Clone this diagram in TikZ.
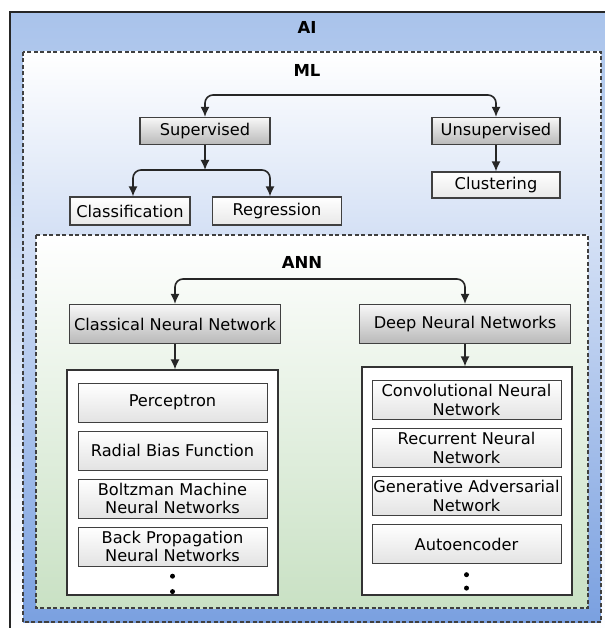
\documentclass[tikz,border=0pt]{standalone}
\usepackage{fontspec}
\setmainfont{DejaVu Sans}
\usepackage{tikz}
\usetikzlibrary{arrows.meta}
\usetikzlibrary{positioning}

\definecolor{aiblue}{HTML}{A9C3EB}
\definecolor{mlblue}{HTML}{7AA0E0}
\definecolor{anngreen}{HTML}{C9E1C4}

\begin{document}
\begin{tikzpicture}[x=1pt, y=-1pt,
    font=\fontsize{16.2}{18.5}\selectfont,
    >={Latex[length=10pt,width=9pt]},
    lbl/.style={font=\fontsize{16.5}{18}\selectfont\bfseries},
    zone/.style={draw=black!75, line width=1.1pt, dash pattern=on 4pt off 2.5pt},
    task/.style={draw=black!75, line width=1.1pt, top color=gray!6, bottom color=gray!55, minimum height=27pt, inner sep=0pt},
    leaf/.style={draw=black!75, line width=1.1pt, top color=white, bottom color=gray!18, minimum height=27pt, inner sep=0pt},
    net/.style={task, minimum width=211pt, minimum height=39pt},
    model/.style={draw=black!75, line width=1pt, top color=white, bottom color=gray!22, minimum width=189pt, minimum height=39pt, inner sep=0pt, align=center},
    holder/.style={draw=black!80, line width=1.1pt, fill=white, inner sep=0pt},
    conn/.style={draw=black!85, line width=1.6pt, rounded corners=8pt, ->},
    vdot/.style={circle, fill=black, inner sep=0pt, minimum size=5pt}]
    \useasboundingbox (0,0) rectangle (604,628);

    \draw[line width=1.3pt, draw=black!85, top color=aiblue, bottom color=white] (10,12) rectangle (612,640);
    \draw[zone, top color=white, bottom color=mlblue] (23,52) rectangle (601,622);
    \draw[zone, top color=white, bottom color=anngreen] (36,235) rectangle (588,608);

    \node[lbl] (ai) at (307,27) {AI};
    \node[lbl] (ml) at (307,70) {ML};
    \node[lbl] (ann) at (302,262) {ANN};

    \node[task, minimum width=130pt] (sup) at (205,131) {Supervised};
    \node[task, minimum width=128pt] (unsup) at (496,131) {Unsupervised};
    \node[leaf, minimum width=120pt, minimum height=28pt] (cls) at (130,211) {Classification};
    \node[leaf, minimum width=129pt, minimum height=28pt] (reg) at (277,211) {Regression};
    \node[leaf, minimum width=128pt, minimum height=26pt] (clu) at (496,185) {Clustering};

    \coordinate (mlbar) at (350,95);
    \coordinate (supsplit) at (205,170);
    \draw[conn, <->] (sup.north) |- (mlbar) -| (unsup.north);
    \draw[conn] (sup) -- (supsplit);
    \draw[conn, <->] ([xshift=3pt]cls.north) |- (supsplit) -| ([xshift=-7pt]reg.north);
    \draw[conn] (unsup) -- (clu);

    \node[net] (cnn) at (175,324) {Classical Neural Network};
    \node[net] (dnn) at (465,324) {Deep Neural Networks};
    \coordinate (annbar) at (320,279);
    \draw[conn, <->] (cnn.north) |- (annbar) -| (dnn.north);

    \node[holder, minimum width=211pt, minimum height=225pt] (cnnbox) at (172.5,482.5) {};
    \node[holder, minimum width=210pt, minimum height=228pt] (dnnbox) at (467,481) {};
    \draw[conn] (cnn.south) -- (cnn.south |- cnnbox.north);
    \draw[conn] (dnn.south) -- (dnn.south |- dnnbox.north);

    \node[model] (perc) at (172.5,402.5) {Perceptron};
    \node[model, below=8pt of perc] (rbf) {Radial Bias Function};
    \node[model, below=8pt of rbf] (boltz) {Boltzman Machine\\Neural Networks};
    \node[model, below=8pt of boltz] (bprop) {Back Propagation\\Neural Networks};
    \node[vdot, below=7pt of bprop] (cdot1) {};
    \node[vdot, below=10pt of cdot1] (cdot2) {};

    \node[model] (conv) at (466.5,400) {Convolutional Neural\\Network};
    \node[model, below=8pt of conv] (rec) {Recurrent Neural\\Network};
    \node[model, below=8pt of rec] (gan) {Generative Adversarial\\Network};
    \node[model, below=8pt of gan] (auto) {Autoencoder};
    \node[vdot, below=8pt of auto] (ddot1) {};
    \node[vdot, below=8pt of ddot1] (ddot2) {};
\end{tikzpicture}
\end{document}
